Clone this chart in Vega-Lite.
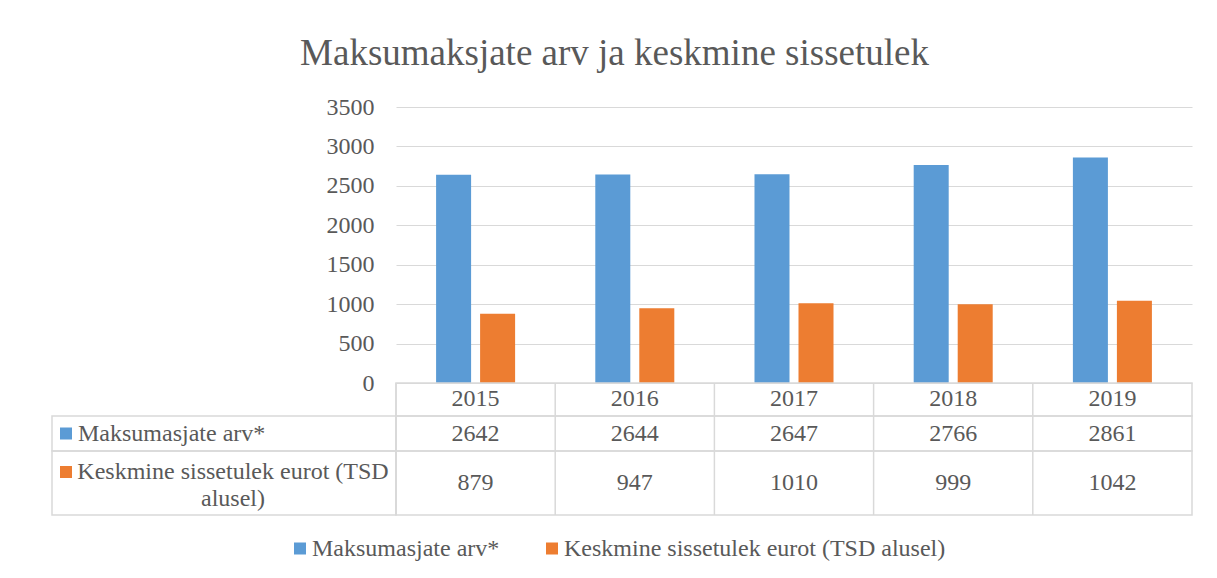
{
  "$schema": "https://vega.github.io/schema/vega-lite/v6.json",
  "background": "white",
  "padding": {"left": 51, "top": 35, "right": 0, "bottom": 0},
  "title": {"text": "Maksumaksjate arv ja keskmine sissetulek", "font": "Liberation Serif", "fontSize": 37, "fontWeight": "normal", "color": "#595959", "anchor": "middle", "offset": 22, "dx": -7.5},
  "datasets": {
    "main": [
      {"year": "2015", "series": "Maksumasjate arv*", "value": 2642},
      {"year": "2016", "series": "Maksumasjate arv*", "value": 2644},
      {"year": "2017", "series": "Maksumasjate arv*", "value": 2647},
      {"year": "2018", "series": "Maksumasjate arv*", "value": 2766},
      {"year": "2019", "series": "Maksumasjate arv*", "value": 2861},
      {"year": "2015", "series": "Keskmine sissetulek eurot (TSD alusel)", "value": 879},
      {"year": "2016", "series": "Keskmine sissetulek eurot (TSD alusel)", "value": 947},
      {"year": "2017", "series": "Keskmine sissetulek eurot (TSD alusel)", "value": 1010},
      {"year": "2018", "series": "Keskmine sissetulek eurot (TSD alusel)", "value": 999},
      {"year": "2019", "series": "Keskmine sissetulek eurot (TSD alusel)", "value": 1042}
    ],
    "labels": [
      {"series": "Maksumasjate arv*", "label": "Maksumasjate arv*"},
      {"series": "Keskmine sissetulek eurot (TSD alusel)", "label": "Keskmine sissetulek eurot (TSD\nalusel)"}
    ]
  },
  "columns": 2,
  "spacing": 0,
  "bounds": "flush",
  "resolve": {"scale": {"x": "independent", "y": "independent", "color": "independent"}, "legend": {"color": "independent"}},
  "concat": [
    {"width": 344, "height": 276, "data": {"values": []}, "mark": "text", "encoding": {}},
    {
      "width": 796, "height": 276,
      "data": {"name": "main"},
      "mark": {"type": "bar"},
      "encoding": {
        "x": {"field": "year", "type": "nominal", "axis": null, "scale": {"paddingInner": 0, "paddingOuter": 0}},
        "xOffset": {"field": "series", "type": "nominal", "scale": {"domain": ["Maksumasjate arv*", "Keskmine sissetulek eurot (TSD alusel)"], "paddingInner": 0.2045, "paddingOuter": 0.911}},
        "y": {"field": "value", "type": "quantitative", "scale": {"domain": [0, 3500]},
          "axis": {"title": null, "values": [0, 500, 1000, 1500, 2000, 2500, 3000, 3500], "format": "d", "grid": true, "gridColor": "#D9D9D9", "gridWidth": 1, "domain": false, "ticks": false, "labelFont": "Liberation Serif", "labelFontSize": 24, "labelColor": "#595959", "labelPadding": 22}},
        "color": {"field": "series", "type": "nominal",
          "scale": {"domain": ["Maksumasjate arv*", "Keskmine sissetulek eurot (TSD alusel)"], "range": ["#5B9BD5", "#ED7D31"]},
          "legend": {"orient": "none", "legendX": -108, "legendY": 429.5, "direction": "horizontal", "title": null, "symbolType": "square", "symbolSize": 144, "symbolStrokeWidth": 0, "labelFont": "Liberation Serif", "labelFontSize": 24, "labelColor": "#595959", "labelOffset": 0, "columnPadding": 40, "labelLimit": 0, "padding": 0}}
      }
    },
    {"width": 344, "height": 33, "data": {"values": []}, "mark": "text", "encoding": {}},
    {
      "width": 796, "height": 33,
      "view": {"stroke": "#D9D9D9", "strokeWidth": 1.5},
      "data": {"name": "main"},
      "transform": [{"filter": "datum.series === 'Maksumasjate arv*'"}],
      "layer": [
        {"mark": {"type": "rule", "color": "#D9D9D9", "strokeWidth": 1.5},
         "encoding": {"x": {"field": "year", "type": "nominal", "bandPosition": 0, "axis": null, "scale": {"paddingInner": 0, "paddingOuter": 0}}}},
        {"mark": {"type": "text", "align": "center", "baseline": "middle", "dy": -1, "fontSize": 24, "font": "Liberation Serif", "color": "#595959"},
         "encoding": {"x": {"field": "year", "type": "nominal", "axis": null}, "text": {"field": "year", "type": "nominal"}}}
      ]
    },
    {
      "width": 344, "height": 35,
      "view": {"stroke": "#D9D9D9", "strokeWidth": 1.5},
      "data": {"name": "labels"},
      "transform": [{"filter": "datum.series === 'Maksumasjate arv*'"}],
      "layer": [
        {"mark": {"type": "point", "shape": "square", "filled": true, "size": 144, "color": "#5B9BD5", "opacity": 1, "strokeWidth": 0, "xOffset": -158}, "encoding": {}},
        {"mark": {"type": "text", "align": "left", "baseline": "middle", "dx": -146, "fontSize": 24, "font": "Liberation Serif", "color": "#595959"},
         "encoding": {"text": {"field": "label", "type": "nominal"}}}
      ]
    },
    {
      "width": 796, "height": 35,
      "view": {"stroke": "#D9D9D9", "strokeWidth": 1.5},
      "data": {"name": "main"},
      "transform": [{"filter": "datum.series === 'Maksumasjate arv*'"}],
      "layer": [
        {"mark": {"type": "rule", "color": "#D9D9D9", "strokeWidth": 1.5},
         "encoding": {"x": {"field": "year", "type": "nominal", "bandPosition": 0, "axis": null, "scale": {"paddingInner": 0, "paddingOuter": 0}}}},
        {"mark": {"type": "text", "align": "center", "baseline": "middle", "fontSize": 24, "font": "Liberation Serif", "color": "#595959"},
         "encoding": {"x": {"field": "year", "type": "nominal", "axis": null}, "text": {"field": "value", "type": "quantitative", "format": "d"}}}
      ]
    },
    {
      "width": 344, "height": 64,
      "view": {"stroke": "#D9D9D9", "strokeWidth": 1.5},
      "data": {"name": "labels"},
      "transform": [{"filter": "datum.series === 'Keskmine sissetulek eurot (TSD alusel)'"}],
      "layer": [
        {"mark": {"type": "point", "shape": "square", "filled": true, "size": 144, "color": "#ED7D31", "opacity": 1, "strokeWidth": 0, "xOffset": -158, "yOffset": -11}, "encoding": {}},
        {"mark": {"type": "text", "align": "center", "baseline": "middle", "dx": 9, "dy": -11, "lineBreak": "\n", "lineHeight": 27, "fontSize": 24, "font": "Liberation Serif", "color": "#595959"},
         "encoding": {"text": {"field": "label", "type": "nominal"}}}
      ]
    },
    {
      "width": 796, "height": 64,
      "view": {"stroke": "#D9D9D9", "strokeWidth": 1.5},
      "data": {"name": "main"},
      "transform": [{"filter": "datum.series === 'Keskmine sissetulek eurot (TSD alusel)'"}],
      "layer": [
        {"mark": {"type": "rule", "color": "#D9D9D9", "strokeWidth": 1.5},
         "encoding": {"x": {"field": "year", "type": "nominal", "bandPosition": 0, "axis": null, "scale": {"paddingInner": 0, "paddingOuter": 0}}}},
        {"mark": {"type": "text", "align": "center", "baseline": "middle", "fontSize": 24, "font": "Liberation Serif", "color": "#595959"},
         "encoding": {"x": {"field": "year", "type": "nominal", "axis": null}, "text": {"field": "value", "type": "quantitative", "format": "d"}}}
      ]
    }
  ],
  "config": {
    "view": {"stroke": null},
    "font": "Liberation Serif",
    "axis": {"labelFont": "Liberation Serif"},
    "legend": {"labelFont": "Liberation Serif"},
    "style": {"guide-label": {"font": "Liberation Serif"}}
  }
}
